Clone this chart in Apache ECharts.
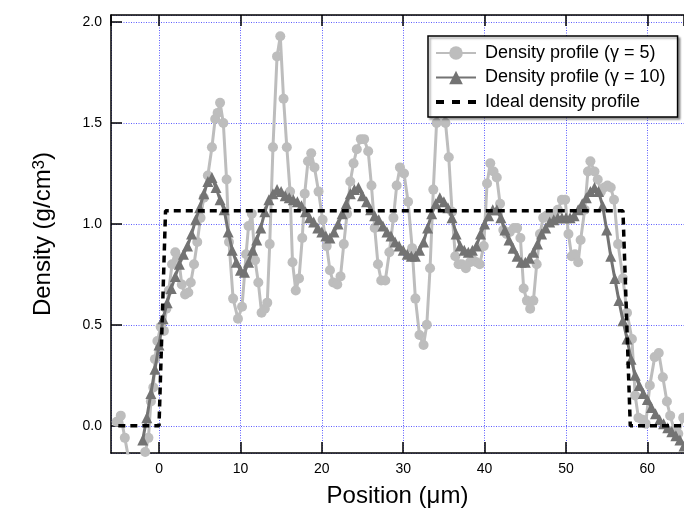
<!DOCTYPE html>
<html>
<head>
<meta charset="utf-8">
<script src="https://cdn.jsdelivr.net/npm/echarts@6/dist/echarts.min.js"></script>
<style>html,body{margin:0;padding:0;background:#fff}#c{width:684px;height:513px}</style>
</head>
<body>
<div id="c"></div>
<script>
// Density profile, gamma = 5 (position in µm, density in g/cm3)
const gamma5X = [-5.2,-4.7,-4.2,-3.7,-3.2,-2.7,-2.2,-1.7,-1.3,-1.0,-0.7,-0.5,-0.2,0.2,0.6,0.9,1.2,1.6,2.0,2.4,2.8,3.2,3.6,3.9,4.3,4.7,5.1,5.5,6.0,6.5,6.9,7.2,7.5,7.9,8.3,8.6,9.1,9.7,10.2,10.7,11.0,11.4,11.8,12.2,12.6,13.0,13.3,13.6,14.0,14.5,14.9,15.3,15.7,16.1,16.4,16.8,17.2,17.6,17.9,18.3,18.7,19.1,19.6,20.1,20.6,21.0,21.4,21.9,22.3,22.7,23.1,23.5,23.9,24.3,24.8,25.2,25.7,26.1,26.5,26.9,27.3,27.8,28.3,28.8,29.2,29.6,30.1,30.6,31.1,31.5,32.0,32.5,32.9,33.3,33.7,34.1,34.5,34.9,35.2,35.6,36.0,36.4,36.8,37.2,37.7,38.2,38.6,39.0,39.4,39.9,40.3,40.7,41.1,41.5,41.9,42.3,42.7,43.1,43.6,44.0,44.4,44.8,45.2,45.6,46.0,46.4,46.8,47.2,47.6,48.1,48.5,49.0,49.5,49.9,50.3,50.7,51.1,51.5,51.8,52.3,52.7,53.0,53.5,53.9,54.3,54.7,55.1,55.5,55.9,56.4,57.0,57.5,58.1,58.5,58.9,59.4,59.8,60.3,60.9,61.4,61.9,62.4,62.8,63.3,63.8,64.4];
const gamma5Y = [0.02,0.05,-0.06,-0.17,-0.22,-0.21,-0.18,-0.13,-0.06,0.12,0.19,0.33,0.42,0.49,0.47,0.58,0.67,0.80,0.86,0.83,0.70,0.65,0.66,0.71,0.80,0.91,1.03,1.13,1.24,1.38,1.52,1.55,1.60,1.50,1.22,0.91,0.63,0.53,0.59,0.85,0.99,1.05,0.82,0.71,0.56,0.58,0.61,0.90,1.38,1.83,1.93,1.62,1.38,1.16,0.81,0.67,0.73,0.93,1.15,1.31,1.35,1.28,1.16,1.02,0.89,0.77,0.71,0.70,0.74,0.90,1.05,1.21,1.30,1.37,1.42,1.42,1.36,1.19,0.98,0.80,0.72,0.72,0.86,1.03,1.19,1.28,1.25,1.11,0.88,0.63,0.45,0.40,0.50,0.78,1.17,1.50,1.66,1.66,1.50,1.33,1.06,0.84,0.80,0.80,0.78,0.81,0.82,0.81,0.80,0.89,1.20,1.30,1.26,1.23,1.10,0.97,0.95,0.96,0.98,0.98,0.93,0.68,0.62,0.58,0.62,0.80,0.95,1.03,1.04,1.03,1.05,1.07,1.12,1.12,0.95,0.84,0.85,0.81,0.92,1.07,1.26,1.31,1.26,1.22,1.16,1.18,1.19,1.18,1.12,0.90,0.73,0.56,0.43,0.15,0.04,0.03,0.01,0.20,0.34,0.36,0.24,0.12,0.05,-0.02,-0.04,0.04];

// Density profile, gamma = 10
const gamma10X = [-2.0,-1.5,-1.0,-0.5,0.0,0.5,1.0,1.5,2.0,2.5,3.0,3.5,4.0,4.5,5.0,5.5,6.0,6.5,7.0,7.5,8.0,8.5,9.0,9.5,10.0,10.5,11.0,11.5,12.0,12.5,13.0,13.5,14.0,14.5,15.0,15.5,16.0,16.5,17.0,17.5,18.0,18.5,19.0,19.5,20.0,20.5,21.0,21.5,22.0,22.5,23.0,23.5,24.0,24.5,25.0,25.5,26.0,26.5,27.0,27.5,28.0,28.5,29.0,29.5,30.0,30.5,31.0,31.5,32.0,32.5,33.0,33.5,34.0,34.5,35.0,35.5,36.0,36.5,37.0,37.5,38.0,38.5,39.0,39.5,40.0,40.5,41.0,41.5,42.0,42.5,43.0,43.5,44.0,44.5,45.0,45.5,46.0,46.5,47.0,47.5,48.0,48.5,49.0,49.5,50.0,50.5,51.0,51.5,52.0,52.5,53.0,53.5,54.0,54.5,55.0,55.5,56.0,56.5,57.0,57.5,58.0,58.5,59.0,59.5,60.0,60.5,61.0,61.5,62.0,62.5,63.0,63.5,64.0,64.5];
const gamma10Y = [-0.07,0.04,0.16,0.28,0.40,0.53,0.61,0.68,0.74,0.80,0.85,0.89,0.95,1.02,1.08,1.15,1.21,1.23,1.18,1.12,1.07,0.96,0.87,0.81,0.77,0.76,0.81,0.87,0.92,0.98,1.06,1.12,1.15,1.17,1.16,1.14,1.13,1.12,1.11,1.09,1.06,1.03,1.01,0.98,0.96,0.94,0.93,0.96,1.00,1.05,1.10,1.15,1.17,1.18,1.14,1.11,1.07,1.04,1.02,0.99,0.96,0.94,0.91,0.89,0.87,0.85,0.84,0.84,0.87,0.91,0.98,1.05,1.10,1.13,1.11,1.08,1.03,0.95,0.89,0.87,0.86,0.87,0.89,0.95,1.00,1.04,1.07,1.07,1.03,0.97,0.92,0.88,0.84,0.81,0.81,0.83,0.86,0.90,0.95,0.98,1.01,1.02,1.03,1.03,1.03,1.03,1.04,1.07,1.10,1.13,1.16,1.18,1.16,1.09,0.97,0.84,0.73,0.62,0.52,0.43,0.33,0.25,0.20,0.16,0.13,0.09,0.06,0.03,0.01,-0.01,-0.03,-0.05,-0.07,-0.10];

// Ideal density profile
const idealX = [-5.0, 0.0, 0.8, 57.0, 57.9, 64.5];
const idealY = [0, 0, 1.065, 1.065, 0, 0];

const seriesNames = ['Density profile (\u03b3 = 5)', 'Density profile (\u03b3 = 10)', 'Ideal density profile'];
const xTitle = 'Position (\u03bcm)';
const yTitle = 'Density (g/cm{sup|3})';

const zip = (xs, ys) => xs.map((x, i) => [x, ys[i]]);
const FONT = '"Liberation Sans", Arial, Helvetica, sans-serif';

const chart = echarts.init(document.getElementById('c'), null, {renderer: 'canvas'});
const gridLine = {show: true, lineStyle: {color: '#5c5cff', width: 1, type: [1, 1.5]}};
chart.setOption({
  animation: false,
  backgroundColor: '#fff',
  grid: {left: 111, right: 0, top: 15, bottom: 60, containLabel: false},
  xAxis: [{
    type: 'value', min: -5.9, max: 64.5, splitNumber: 7,
    position: 'bottom',
    name: xTitle, nameLocation: 'middle', nameGap: 31,
    nameTextStyle: {fontFamily: FONT, fontSize: 24, color: '#000'},
    axisLine: {show: true, onZero: false, lineStyle: {color: '#000', width: 1.5}},
    axisTick: {show: true, inside: true, length: 11, lineStyle: {color: '#000', width: 1.5}},
    axisLabel: {fontFamily: FONT, fontSize: 14, color: '#000', margin: 9, showMinLabel: false, showMaxLabel: false},
    splitLine: gridLine
  }, {
    type: 'value', min: -5.9, max: 64.5, splitNumber: 7,
    position: 'top',
    axisLine: {show: true, onZero: false, lineStyle: {color: '#000', width: 1.5}},
    axisTick: {show: true, inside: true, length: 11, lineStyle: {color: '#000', width: 1.5}},
    axisLabel: {show: false},
    splitLine: {show: false}
  }],
  yAxis: [{
    type: 'value', min: -0.135, max: 2.035, splitNumber: 4,
    name: yTitle, nameLocation: 'middle', nameGap: 56, nameRotate: 90,
    nameTextStyle: {fontFamily: FONT, fontSize: 24, color: '#000',
      rich: {sup: {fontFamily: FONT, fontSize: 17, color: '#000', verticalAlign: 'top'}}},
    axisLine: {show: true, onZero: false, lineStyle: {color: '#000', width: 1.5}},
    axisTick: {show: true, inside: true, length: 11, lineStyle: {color: '#000', width: 1.5}},
    axisLabel: {fontFamily: FONT, fontSize: 14, color: '#000', margin: 9, showMinLabel: false, showMaxLabel: false,
      formatter: v => v.toFixed(1)},
    splitLine: gridLine
  }],
  legend: {
    orient: 'vertical', left: 428, top: 36,
    padding: [8, 12, 6, 6], itemWidth: 40, itemHeight: 17, itemGap: 6.5,
    backgroundColor: '#fff', borderColor: '#000', borderWidth: 1.5,
    shadowColor: 'rgba(0,0,0,0.35)', shadowOffsetX: 2, shadowOffsetY: 2, shadowBlur: 2,
    textStyle: {fontFamily: FONT, fontSize: 18, color: '#000', padding: [0, 0, 0, 4]},
    z: 10,
    data: [
      {name: seriesNames[0]},
      {name: seriesNames[1]},
      {name: seriesNames[2], itemStyle: {opacity: 0}, lineStyle: {width: 4, type: [8, 8]}}
    ]
  },
  series: [{
    name: seriesNames[0], type: 'line', data: zip(gamma5X, gamma5Y),
    symbol: 'circle', symbolSize: 10, showAllSymbol: true,
    lineStyle: {color: '#bdbdbd', width: 3}, itemStyle: {color: '#bdbdbd'}, z: 2
  }, {
    name: seriesNames[1], type: 'line', data: zip(gamma10X, gamma10Y),
    symbol: 'triangle', symbolSize: 11, showAllSymbol: true,
    lineStyle: {color: '#737373', width: 3}, itemStyle: {color: '#737373'}, z: 3
  }, {
    name: seriesNames[2], type: 'line', data: zip(idealX, idealY),
    symbol: 'none',
    lineStyle: {color: '#000', width: 3.5, type: [7, 5]}, itemStyle: {color: '#000'}, z: 4
  }]
});
</script>
</body>
</html>
